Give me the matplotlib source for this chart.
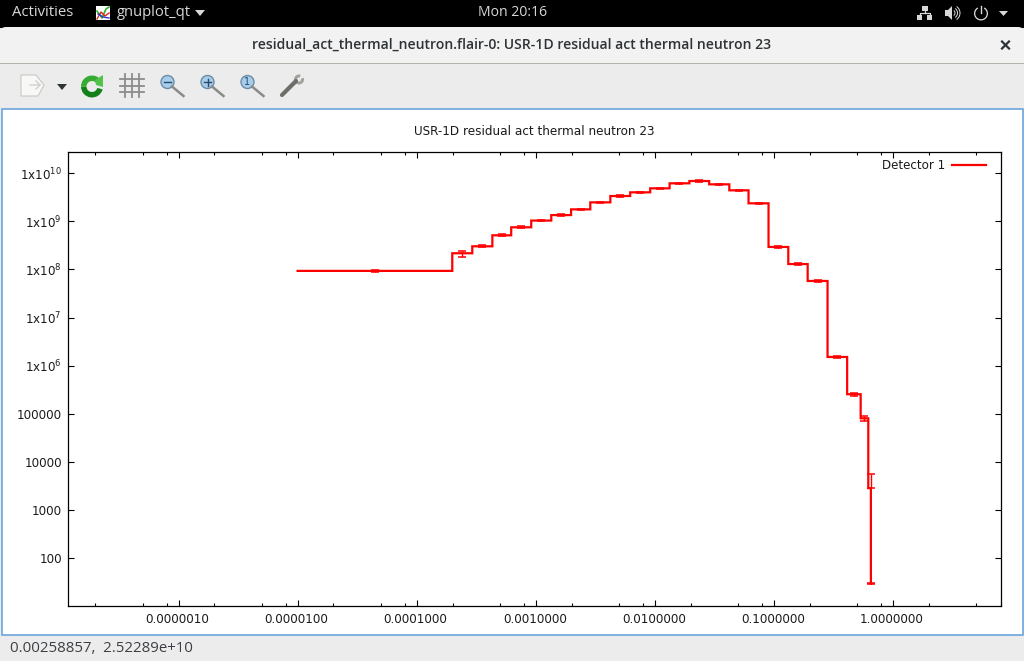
import matplotlib
matplotlib.use('Agg')
import matplotlib.pyplot as plt
from matplotlib.patches import Circle, FancyBboxPatch, Polygon, Rectangle, Wedge
from matplotlib.ticker import FixedLocator, FuncFormatter, NullLocator
from matplotlib.transforms import ScaledTranslation

# step positions (bin edges, last one is the closing drop)
edges = [1.0e-5, 1.99e-4, 2.93e-4, 4.32e-4, 6.22e-4, 9.16e-4, 1.35e-3, 1.98e-3,
         2.87e-3, 4.23e-3, 6.21e-3, 9.14e-3, 1.33e-2, 1.95e-2, 2.86e-2, 4.22e-2,
         6.12e-2, 9.01e-2, 0.132, 0.192, 0.282, 0.412, 0.535, 0.620, 0.652]
levels = [9.3e7, 2.16e8, 3.01e8, 5.09e8, 7.47e8, 1.03e9, 1.34e9, 1.76e9,
          2.46e9, 3.33e9, 3.97e9, 4.81e9, 6.11e9, 6.82e9, 5.82e9, 4.37e9,
          2.35e9, 2.92e8, 1.29e8, 5.74e7, 1.52e6, 2.56e5, 8.1e4, 2.88e3, 29.7]
centers = [4.47e-5, 2.41e-4, 3.56e-4, 5.18e-4, 7.55e-4, 1.11e-3, 1.63e-3, 2.38e-3,
           3.48e-3, 5.13e-3, 7.53e-3, 1.10e-2, 1.61e-2, 2.36e-2, 3.47e-2, 5.08e-2,
           7.43e-2, 0.109, 0.159, 0.233, 0.341, 0.469, 0.576, 0.652, 0.652]
err_up = [0.05, 0.115, 0.04, 0.05, 0.04, 0.03, 0.03, 0.03,
          0.03, 0.03, 0.03, 0.03, 0.03, 0.03, 0.03, 0.03,
          0.03, 0.03, 0.03, 0.03, 0.07, 0.06, 0.106, 0.975, 0.03]
err_down = [0.05, 0.16, 0.04, 0.05, 0.04, 0.03, 0.03, 0.03,
            0.03, 0.03, 0.03, 0.03, 0.03, 0.03, 0.03, 0.03,
            0.03, 0.03, 0.03, 0.03, 0.07, 0.06, 0.128, 0.0, 0.03]

x_ticks = [1e-6, 1e-5, 1e-4, 1e-3, 1e-2, 1e-1, 1.0]
x_minor = [m * 10.0 ** e for e in range(-7, 1) for m in (2, 5, 8)]
y_ticks = [1e2, 1e3, 1e4, 1e5, 1e6, 1e7, 1e8, 1e9, 1e10]
y_labels = ['100', '1000', '10000', '100000', r'1x10$^{6}$', r'1x10$^{7}$',
            r'1x10$^{8}$', r'1x10$^{9}$', r'1x10$^{10}$']

plot_title = 'USR-1D residual act thermal neutron 23'
window_title = 'residual_act_thermal_neutron.flair-0: USR-1D residual act thermal neutron 23'
status_text = '0.00258857,  2.52289e+10'

W, H = 1024, 661
plt.rcParams['mathtext.default'] = 'regular'
fig = plt.figure(figsize=(W / 100, H / 100), dpi=100, facecolor='#ececec')

# desktop and window chrome, in screen pixels
ui = fig.add_axes([0, 0, 1, 1])
ui.set_xlim(0, W)
ui.set_ylim(H, 0)
ui.axis('off')


def rect(x0, y0, x1, y1, **kw):
    kw.setdefault('linewidth', 0)
    ui.add_patch(Rectangle((x0, y0), x1 - x0, y1 - y0, **kw))


rect(0, 0, W, 28, facecolor='#000000')
ui.add_patch(FancyBboxPatch((0, 27), W, 60, boxstyle='round,pad=0,rounding_size=6',
                            facecolor='#f2f2f2', linewidth=0, mutation_aspect=1))
rect(0, 63, W, 64.2, facecolor='#b4b4ac')
rect(0, 64.2, W, H, facecolor='#ececec')
rect(1.5, 109, 1022.5, 635, facecolor='white', edgecolor='#5f9fdc', linewidth=1.1)

top_font = dict(family='Open Sans', color='#d8d8d8', va='center')
ui.text(12, 13, 'Activities', ha='left', fontsize=10.7, **top_font)
ui.text(117, 13, 'gnuplot_qt', ha='left', fontsize=10.6, **top_font)
ui.text(513, 13, 'Mon 20:16', ha='center', fontsize=10.1, **top_font)
ui.add_patch(Polygon([(195, 10), (205, 10), (200, 16)], facecolor='#d8d8d8'))
ui.text(511.5, 45, window_title, ha='center', va='center', family='Open Sans',
        fontsize=10.06, fontweight='semibold', color='#2e3436')
ui.text(10, 649, status_text, ha='left', va='center', family='Open Sans',
        fontsize=10.8, color='#3c4044')

# little gnuplot icon in the top bar
rect(96, 6, 110, 20, facecolor='white')
ui.plot([97, 102, 106, 109], [11, 18, 9, 7], color='#2db52d', lw=1.2)
ui.plot([97, 101, 105, 109], [19, 12, 16, 13], color='#d22', lw=1.0)
ui.plot([98, 103, 109], [14, 17, 18], color='#33c', lw=1.0)

# status icons on the right
ui.add_patch(Rectangle((922, 6), 6, 5, facecolor='#d8d8d8', linewidth=0))
ui.add_patch(Rectangle((917, 15), 5, 5, facecolor='#d8d8d8', linewidth=0))
ui.add_patch(Rectangle((927, 15), 5, 5, facecolor='#d8d8d8', linewidth=0))
ui.plot([925, 925], [11, 13], color='#d8d8d8', lw=0.9)
ui.plot([919.5, 919.5, 929.5, 929.5], [15, 13, 13, 15], color='#d8d8d8', lw=0.9)
ui.add_patch(Polygon([(945, 10), (948, 10), (952, 6), (952, 20), (948, 16), (945, 16)],
                     facecolor='#d8d8d8', linewidth=0))
for r in (3, 5.5, 8):
    ui.add_patch(Wedge((952, 13), r + 0.5, -55, 55, width=1, facecolor='#d8d8d8', linewidth=0))
ui.add_patch(Wedge((981, 13.5), 7, -60, 240, width=1.3, facecolor='#d8d8d8', linewidth=0))
ui.plot([981, 981], [6, 13], color='#d8d8d8', lw=1.0)
ui.add_patch(Polygon([(999, 11), (1008, 11), (1003.5, 16)], facecolor='#d8d8d8', linewidth=0))

# close cross
ui.plot([1002, 1009], [41.5, 48.5], color='#2e3436', lw=1.6)
ui.plot([1002, 1009], [48.5, 41.5], color='#2e3436', lw=1.6)

# toolbar: document, dropdown, reload, grid
ui.add_patch(Polygon([(21, 75), (36, 75), (44, 85), (38, 96), (21, 96)],
                     facecolor='#f8f8f6', edgecolor='#c8c8c4', linewidth=0.8))
ui.plot([30, 40, 36], [85, 85, 81], color='#d0d0cc', lw=1.0)
ui.plot([36, 40], [89, 85], color='#d0d0cc', lw=1.0)
ui.add_patch(Polygon([(57, 84), (67, 84), (62, 90)], facecolor='#2e3436', linewidth=0))
ui.add_patch(Wedge((92, 86.5), 11, 15, 180, width=5.5, facecolor='#14801a', linewidth=0))
ui.add_patch(Wedge((92, 86.5), 11, 180, 330, width=5.5, facecolor='#37ab34', linewidth=0))
ui.add_patch(Polygon([(95, 80), (103, 75), (103, 87), (96, 85)], facecolor='#52c24a', linewidth=0))
for p in (125, 132, 139):
    ui.plot([p, p], [74, 97], color='#8c8c8c', lw=1.3)
for p in (79, 86, 92):
    ui.plot([120, 144], [p, p], color='#8c8c8c', lw=1.3)

# toolbar: the three magnifiers
for cx in (167.5, 207.5, 247.5):
    ui.plot([cx + 4.5, cx + 16], [86.5, 96], color='#8b8b88', lw=1.8)
    ui.add_patch(Circle((cx, 82), 6.5, facecolor='#a6cdea', edgecolor='#6d8ca6', linewidth=1.0))
ui.plot([164, 171], [82, 82], color='#27496b', lw=1.0)
ui.plot([204, 211], [82, 82], color='#27496b', lw=1.0)
ui.plot([207.5, 207.5], [78.5, 85.5], color='#27496b', lw=1.0)
ui.text(247.5, 82, '1', ha='center', va='center', fontsize=7, color='#27496b')

# toolbar: wrench
ui.plot([282, 296], [95, 81], color='#6e6d67', lw=3.0, solid_capstyle='round')
ui.add_patch(Wedge((299, 79.5), 5, -20, 290, width=3, facecolor='#a2a29c', linewidth=0))
ui.add_patch(Circle((282.5, 94.5), 1.2, facecolor='#e0e0dc', linewidth=0))

# the gnuplot canvas
ax = fig.add_axes([68 / W, 1 - 606 / H, 933 / W, 454 / H])
ax.set_xscale('log')
ax.set_yscale('log')
ax.set_xlim(1.18e-7, 8.07)
ax.set_ylim(10.3, 2.73e10)
ax.patch.set_alpha(0)

line, = ax.plot(edges, levels, drawstyle='steps-post', color='#ff0000', lw=1.6,
                solid_joinstyle='miter', label='Detector 1')
line.set_snap(False)
y_low = [v * d for v, d in zip(levels, err_down)]
y_high = [v * u for v, u in zip(levels, err_up)]
err = ax.errorbar(centers, levels, yerr=[y_low, y_high], fmt='none', ecolor='#ff0000',
                  elinewidth=1.0, capsize=2.6, capthick=1.1)
for cap in err[1]:
    cap.set_snap(False)

ax.xaxis.set_major_locator(FixedLocator(x_ticks))
ax.xaxis.set_minor_locator(FixedLocator(x_minor))
ax.xaxis.set_major_formatter(FuncFormatter(lambda v, pos: '%.7f' % v))
ax.xaxis.set_minor_formatter(FuncFormatter(lambda v, pos: ''))
ax.yaxis.set_major_locator(FixedLocator(y_ticks))
ax.yaxis.set_minor_locator(NullLocator())
ax.set_yticklabels(y_labels)
ax.tick_params(which='major', direction='in', top=True, right=True, length=4.4,
               width=0.8, labelsize=8.6, color='black', labelcolor='#1a1a1a')
ax.tick_params(which='minor', direction='in', top=True, right=True, length=2.4, width=0.8)
ax.tick_params(axis='x', which='major', pad=5.2)
ax.tick_params(axis='y', which='major', pad=4.4)
for s in ax.spines.values():
    s.set_linewidth(0.9)

# x labels sit a pixel left of their ticks
shift = ScaledTranslation(-1 / 100, 0, fig.dpi_scale_trans)
for label in ax.get_xticklabels():
    label.set_transform(label.get_transform() + shift)

ax.set_title(plot_title, fontsize=8.65, color='#1a1a1a', pad=12.1)
ax.legend(loc='upper right', frameon=False, markerfirst=False, fontsize=8.6,
          handlelength=2.85, handletextpad=0.5, borderaxespad=0, borderpad=0.6,
          bbox_to_anchor=(0.9912, 1.0), labelcolor='#1a1a1a')

fig.savefig('out.png', dpi=100, facecolor=fig.get_facecolor())
